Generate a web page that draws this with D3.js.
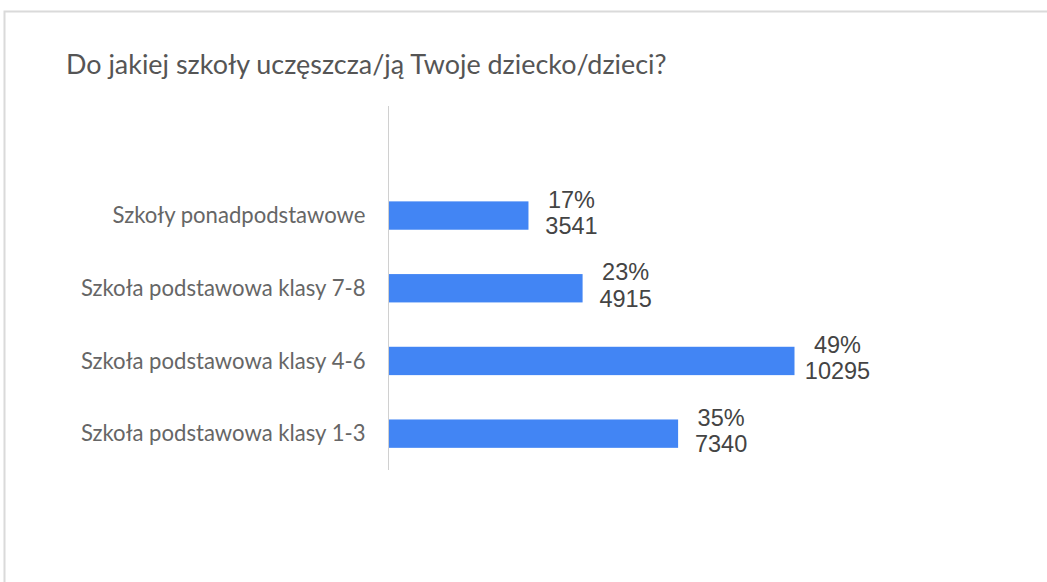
<!DOCTYPE html>
<html><head><meta charset="utf-8">
<script src="https://cdn.jsdelivr.net/npm/d3@7"></script>
<style>html,body{margin:0;padding:0;background:#fff;}svg{display:block;}</style>
</head><body>
<script>
const title = "Do jakiej szkoły uczęszcza/ją Twoje dziecko/dzieci?";
const categories = ["Szkoły ponadpodstawowe","Szkoła podstawowa klasy 7-8","Szkoła podstawowa klasy 4-6","Szkoła podstawowa klasy 1-3"];
const counts = [3541, 4915, 10295, 7340];
const percents = ["17%","23%","49%","35%"];

const W = 1047, H = 582;
const svg = d3.select("body").append("svg").attr("width", W).attr("height", H);

// card border
svg.append("path").attr("d", `M4.5,${H} L4.5,11.5 L${W},11.5`).attr("fill","none").attr("stroke","#dadada").attr("stroke-width",2);

function fit(sel, target, base){
  const w = sel.node().getComputedTextLength();
  const s = base * target / w;
  sel.attr("font-size", s);
  return s;
}

const t = svg.append("text").attr("x", 66).attr("y", 74).text(title)
  .attr("font-family","Lato, 'Open Sans', sans-serif").attr("font-size",22).attr("fill","#555");
fit(t, 601, 22);

const axisX = 388.5;
const y = d3.scaleBand().domain(["", ...categories]).range([106.5, 470]).paddingInner(0.61).paddingOuter(0.305);
const x = d3.scaleLinear().domain([0, d3.max(counts)]).range([389, 794.5]);

svg.append("line").attr("x1",axisX).attr("x2",axisX).attr("y1",106).attr("y2",470).attr("stroke","#d0d0d0").attr("stroke-width",1);

svg.append("g").selectAll("rect").data(categories).join("rect")
  .attr("x", x(0)).attr("y", d => y(d)).attr("height", y.bandwidth())
  .attr("width", (d,i) => x(counts[i]) - x(0)).attr("fill", "#4285f4");

// category labels
const lab = svg.append("g").attr("font-family","Lato, 'Open Sans', sans-serif").attr("fill","#666").attr("text-anchor","end");
const labs = lab.selectAll("text").data(categories).join("text")
  .attr("x", 365.5).attr("y", d => y(d) + y.bandwidth()/2).attr("dy","0.35em").attr("font-size",20).text(d => d);
const w0 = labs.filter((d,i)=>i===0).node().getComputedTextLength();
labs.attr("font-size", 20 * 253 / w0);

// value labels
const vl = svg.append("g").attr("font-family","'Liberation Sans', Arial, sans-serif").attr("fill","#444").attr("text-anchor","middle").attr("font-size",23.5);
vl.selectAll("text.p").data(categories).join("text").attr("class","p")
  .attr("x", (d,i) => x(counts[i]) + 43).attr("y", d => y(d) + y.bandwidth()/2 - 8).text((d,i) => percents[i]);
vl.selectAll("text.c").data(categories).join("text").attr("class","c")
  .attr("x", (d,i) => x(counts[i]) + 43).attr("y", d => y(d) + y.bandwidth()/2 + 18.5).text((d,i) => counts[i]);
</script>
</body></html>
